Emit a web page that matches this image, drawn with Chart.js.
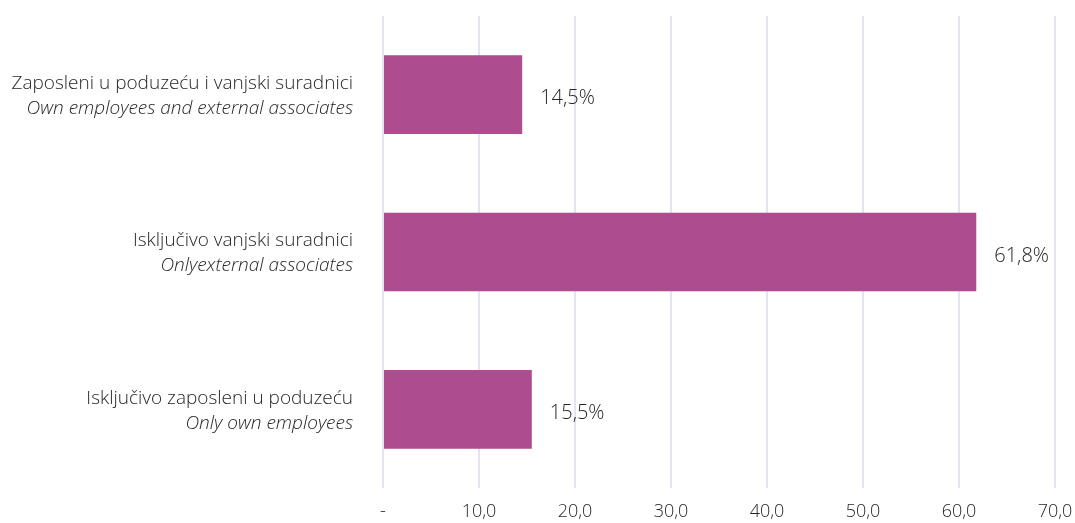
<!DOCTYPE html>
<html>
<head>
<meta charset="utf-8">
<script src="https://cdn.jsdelivr.net/npm/chart.js@4/dist/chart.umd.min.js"></script>
<style>
  html, body { margin: 0; padding: 0; background: #ffffff; }
  #wrap { width: 1075px; height: 523px; position: relative; }
</style>
</head>
<body>
<div id="wrap"><canvas id="c"></canvas></div>
<script>
// Categories (Croatian / English), top to bottom
const labelsHr = [
  'Zaposleni u poduzeću i vanjski suradnici',
  'Isključivo vanjski suradnici',
  'Isključivo zaposleni u poduzeću'
];
const labelsEn = [
  'Own employees and external associates',
  'Onlyexternal associates',
  'Only own employees'
];
// Share of respondents, %
const shares = [14.5, 61.8, 15.5];
// X axis range and step
const axisMin = 0;
const axisMax = 70;
const axisStep = 10;

const FONT = "'Open Sans', 'Noto Sans', sans-serif";
const TEXT = '#262626';
const BAR = '#ad4d8f';

const fmt = (v, d) => v.toFixed(d).replace('.', ',');

// Two-line category labels: regular Croatian line, italic English line
const categoryLabels = {
  id: 'categoryLabels',
  afterDraw(chart) {
    const { ctx, scales: { y } } = chart;
    const xRight = y.right - 30;
    ctx.save();
    ctx.fillStyle = TEXT;
    ctx.textAlign = 'right';
    ctx.textBaseline = 'middle';
    labelsHr.forEach((t, i) => {
      const cy = y.getPixelForValue(i);
      ctx.font = `300 19px ${FONT}`;
      ctx.fillText(t, xRight, cy - 11);
      ctx.font = `italic 300 19px ${FONT}`;
      ctx.fillText(labelsEn[i], xRight, cy + 14);
    });
    ctx.restore();
  }
};

// Value labels to the right of each bar
const valueLabels = {
  id: 'valueLabels',
  afterDatasetsDraw(chart) {
    const { ctx } = chart;
    const meta = chart.getDatasetMeta(0);
    ctx.save();
    ctx.fillStyle = TEXT;
    ctx.font = `300 20px ${FONT}`;
    ctx.textAlign = 'left';
    ctx.textBaseline = 'middle';
    meta.data.forEach((bar, i) => {
      ctx.fillText(fmt(shares[i], 1) + '%', bar.x + 18, bar.y + 4);
    });
    ctx.restore();
  }
};

new Chart(document.getElementById('c'), {
  type: 'bar',
  data: {
    labels: labelsHr,
    datasets: [{
      data: shares,
      backgroundColor: BAR,
      borderWidth: 0,
      barPercentage: 0.5,
      categoryPercentage: 1.0
    }]
  },
  options: {
    indexAxis: 'y',
    responsive: true,
    maintainAspectRatio: false,
    animation: false,
    layout: { padding: { top: 16, right: 0, left: 0, bottom: 0 } },
    plugins: { legend: { display: false }, tooltip: { enabled: false } },
    scales: {
      x: {
        min: axisMin,
        max: axisMax,
        border: { display: false },
        grid: { color: '#e3e5ee', lineWidth: 2, drawTicks: false },
        ticks: {
          stepSize: axisStep,
          padding: 13,
          color: TEXT,
          font: { family: FONT, size: 18, weight: '300' },
          callback: (v) => (v === 0 ? '-' : fmt(v, 1))
        },
        afterFit(scale) {
          scale.height = 35;
          scale.paddingRight = 20;
        }
      },
      y: {
        border: { display: false },
        grid: { display: false },
        ticks: { display: false },
        afterFit(scale) { scale.width = 383; }
      }
    }
  },
  plugins: [categoryLabels, valueLabels]
});
</script>
</body>
</html>
